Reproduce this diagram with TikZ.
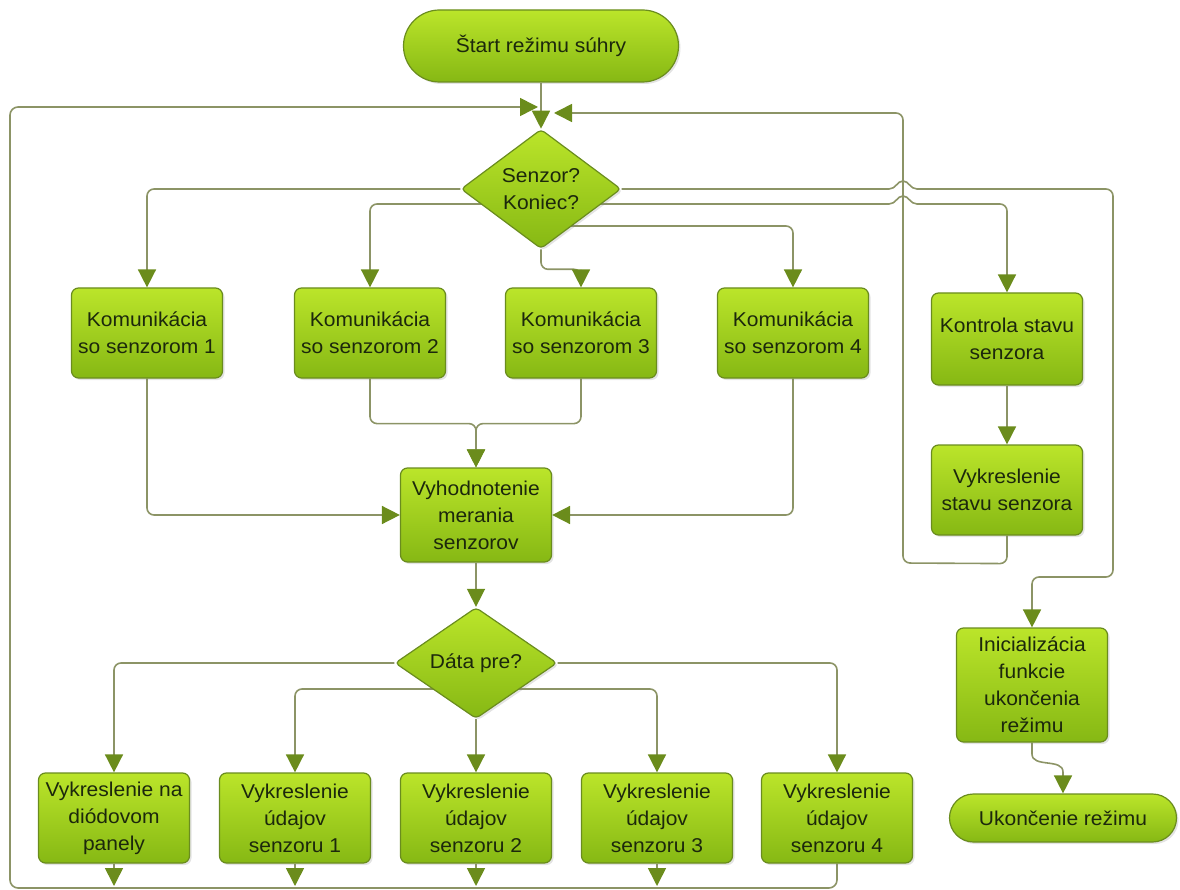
\documentclass[tikz,border=0pt]{standalone}
\usepackage{fontspec}
\setmainfont{Liberation Sans}[FakeStretch=1.05]
\usetikzlibrary{arrows.meta,shapes.geometric,shapes.misc,backgrounds,shadows}
\definecolor{boxtop}{HTML}{BBE52A}
\definecolor{boxbot}{HTML}{86B814}
\definecolor{boxline}{HTML}{6A8C1E}
\definecolor{linec}{HTML}{8C9466}
\definecolor{arrowc}{HTML}{6B8C1C}
\definecolor{textc}{HTML}{1C280C}
\begin{document}
\begin{tikzpicture}[x=1pt,y=-1pt,
  base/.style={top color=boxtop,bottom color=boxbot,draw=boxline,line width=1.2pt,
    text=textc,align=center,font=\fontsize{20}{27}\selectfont,inner sep=0pt,
    drop shadow={shadow xshift=2pt,shadow yshift=-2pt,opacity=0.22}},
  proc/.style={base,rectangle,rounded corners=7pt,minimum width=151pt,minimum height=90pt},
  term/.style={base,rounded rectangle},
  decide/.style={base,diamond,rounded corners=4pt,minimum width=160pt,minimum height=110pt},
  flow/.style={draw=linec,line width=1.6pt,rounded corners=7pt},
  tip/.style={-{Triangle[width=18pt,length=18pt,color=arrowc]}},
]
\useasboundingbox (0,0) rectangle (1180,890);

% process blocks
\node[term,minimum width=275pt,minimum height=72pt] (start) at (541,46) {Štart režimu súhry};
\node[decide] (d1) at (541,189) {Senzor?\\Koniec?};
\node[proc] (k1) at (147,333) {Komunikácia\\so senzorom 1};
\node[proc] (k2) at (370,333) {Komunikácia\\so senzorom 2};
\node[proc] (k3) at (581,333) {Komunikácia\\so senzorom 3};
\node[proc] (k4) at (793,333) {Komunikácia\\so senzorom 4};
\node[proc,minimum height=92pt] (ks) at (1007,339) {Kontrola stavu\\senzora};
\node[proc] (vs) at (1007,490) {Vykreslenie\\stavu senzora};
\node[proc,minimum height=114pt] (init) at (1032,685) {Inicializácia\\funkcie\\ukončenia\\režimu};
\node[term,minimum width=227pt,minimum height=48pt] (end) at (1063,818) {Ukončenie režimu};
\node[proc,minimum height=94pt] (vyh) at (476,515) {Vyhodnotenie\\merania\\senzorov};
\node[decide,minimum width=162pt,minimum height=108pt] (d2) at (476,663) {Dáta pre?};
\node[proc] (b1) at (114,818) {Vykreslenie na\\diódovom\\panely};
\node[proc] (b2) at (295,818) {Vykreslenie\\údajov\\senzoru 1};
\node[proc] (b3) at (476,818) {Vykreslenie\\údajov\\senzoru 2};
\node[proc] (b4) at (657,818) {Vykreslenie\\údajov\\senzoru 3};
\node[proc] (b5) at (837,818) {Vykreslenie\\údajov\\senzoru 4};

% loop entry points above the first decision and the bottom return line
\coordinate (jl) at (538,107);
\coordinate (jr) at (554,113);
\coordinate (bl) at (0,886);

\begin{pgfonlayer}{background}
  \draw[flow,tip] (start.south) -- (d1.north);
  % branches of the first decision
  \draw[flow,tip] (d1.west) -| (k1.north);
  \draw[flow,tip] ([yshift=-15pt]d1.center) -| (k2.north);
  \draw[flow,tip] (d1.south) -- ++(0,20) -| (k3.north);
  \draw[flow,tip] ([yshift=-37pt]d1.center) -| (k4.north);
  \draw[flow,tip] ([yshift=-15pt]d1.center) [sharp corners] -- (889,204)
     .. controls (896,204) and (897,196) .. (903,196)
     .. controls (909,196) and (910,204) .. (917,204)
     [rounded corners=7pt] -| (ks.north);
  \draw[flow,tip] (d1.east) [sharp corners] -- (889,189)
     .. controls (896,189) and (897,181) .. (903,181)
     .. controls (909,181) and (910,189) .. (917,189)
     [rounded corners=7pt] -- (1113,189) -- (1113,577) -- (1032,577) -- (init.north);
  % sensor communication merges into evaluation
  \draw[flow,tip] (k1.south) |- (vyh.west);
  \draw[flow,tip] (k4.south) |- (vyh.east);
  \draw[flow,tip] (k2.south) -- ++(0,45) -| (vyh.north);
  \draw[flow,tip] (k3.south) -- ++(0,45) -| (vyh.north);
  \draw[flow,tip] (vyh.south) -- (d2.north);
  % branches of the second decision
  \draw[flow,tip] (d2.west) -| (b1.north);
  \draw[flow,tip] (d2.east) -| (b5.north);
  \draw[flow,tip] ([yshift=-26pt]d2.center) -| (b2.north);
  \draw[flow,tip] ([yshift=-26pt]d2.center) -| (b4.north);
  \draw[flow,tip] (d2.south) -- (b3.north);
  % sensor state branch
  \draw[flow,tip] (ks.south) -- (vs.north);
  \draw[flow,tip] (vs.south) -- ++(0,28) -- (903,563) -- (903,113) -- (jr);
  \draw[flow,tip] (init.south) [sharp corners] -- (1032,754)
     .. controls (1032,768) and (1063,758) .. (1063,772) -- (end.north);
  % drawing outputs return to the top
  \draw[flow,tip] (b1.south) -- (b1.south |- bl);
  \draw[flow,tip] (b2.south) -- (b2.south |- bl);
  \draw[flow,tip] (b3.south) -- (b3.south |- bl);
  \draw[flow,tip] (b4.south) -- (b4.south |- bl);
  \draw[flow,tip,rounded corners=8pt] (b5.south) -- (837,888) -- (10,888) -- (10,107) -- (jl);
\end{pgfonlayer}
\end{tikzpicture}
\end{document}
